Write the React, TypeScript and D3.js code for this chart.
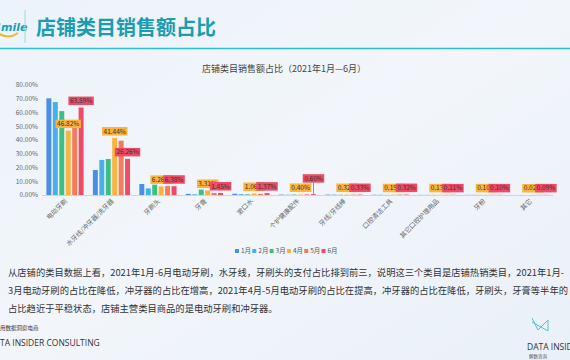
import { useEffect, useRef } from "react";
import * as d3 from "d3";

const MONTHS = ["1月", "2月", "3月", "4月", "5月", "6月"];
const MONTH_COLORS = ["#4a8fe3", "#47b0e8", "#3cbf82", "#f9b33e", "#f27c5b", "#ee4b66"];

const CATEGORIES = [
  "电动牙刷",
  "水牙线/冲牙器/洗牙器",
  "牙刷头",
  "牙膏",
  "漱口水",
  "个护健康配件",
  "牙线/牙线棒",
  "口腔清洁工具",
  "其它口腔护理用品",
  "牙粉",
  "其它",
];

// share (%) per month, one array per month, in CATEGORIES order
const M1 = [70.3, 18.2, 8.0, 0.8, 0.9, 0.3, 0.3, 0.2, 0.1, 0.1, 0.0];
const M2 = [67.6, 25.5, 4.8, 0.5, 0.6, 0.2, 0.3, 0.2, 0.1, 0.1, 0.0];
const M3 = [61.0, 26.2, 7.5, 3.9, 0.5, 0.3, 0.2, 0.1, 0.1, 0.1, 0.0];
const M4 = [46.82, 41.44, 6.26, 3.31, 1.06, 0.4, 0.32, 0.19, 0.13, 0.1, 0.02];
const M5 = [49.7, 39.5, 6.5, 1.5, 0.8, 0.5, 0.3, 0.3, 0.1, 0.1, 0.1];
const M6 = [63.59, 26.26, 6.38, 1.45, 1.37, 0.6, 0.33, 0.32, 0.11, 0.1, 0.09];
const SERIES = [M1, M2, M3, M4, M5, M6];
const LABELLED = [3, 5]; // 4月 and 6月 carry value labels

const Y_TICKS = [0, 10, 20, 30, 40, 50, 60, 70, 80];

const PARAGRAPH = [
  "从店铺的类目数据上看，2021年1月-6月电动牙刷，水牙线，牙刷头的支付占比排到前三，说明这三个类目是店铺热销类目，2021年1月-",
  "3月电动牙刷的占比在降低，冲牙器的占比在增高，2021年4月-5月电动牙刷的占比在提高，冲牙器的占比在降低，牙刷头，牙膏等半年的",
  "占比趋近于平稳状态，店铺主营类目商品的是电动牙刷和冲牙器。",
];

const FONT = "'Noto Sans CJK SC', 'Noto Sans', sans-serif";

export default function App() {
  const svgRef = useRef<SVGSVGElement>(null);

  useEffect(() => {
    if (!svgRef.current) return;
    const W = 570;
    const H = 360;
    const svg = d3.select(svgRef.current);
    svg.selectAll("*").remove();

    const defs = svg.append("defs");
    const grad = defs.append("linearGradient").attr("id", "bg").attr("x1", 0).attr("y1", 0).attr("x2", 1).attr("y2", 1);
    grad.append("stop").attr("offset", "0%").attr("stop-color", "#edf3fa");
    grad.append("stop").attr("offset", "50%").attr("stop-color", "#f2f6fb");
    grad.append("stop").attr("offset", "100%").attr("stop-color", "#eaf0f8");
    svg.append("rect").attr("width", W).attr("height", H).attr("fill", "url(#bg)");

    // header
    svg.append("text").attr("x", -7).attr("y", 31).attr("font-family", "'DejaVu Sans', sans-serif")
      .attr("font-size", 11).attr("font-weight", "bold").attr("font-style", "italic")
      .attr("fill", "#1b9fb3").text("Smile");
    svg.append("path").attr("d", "M-2,33 Q8,40 18,33").attr("fill", "none")
      .attr("stroke", "#f3b623").attr("stroke-width", 2);
    svg.append("line").attr("x1", 25).attr("x2", 25).attr("y1", 10).attr("y2", 43)
      .attr("stroke", "#9fd6de").attr("stroke-width", 1);
    svg.append("text").attr("x", 36).attr("y", 35).attr("font-family", FONT)
      .attr("font-size", 20).attr("font-weight", "bold").attr("fill", "#1a9db2")
      .text("店铺类目销售额占比");
    svg.append("line").attr("x1", 0).attr("x2", W).attr("y1", 48.5).attr("y2", 48.5)
      .attr("stroke", "#2bbfcf").attr("stroke-width", 1.5);

    // chart title
    svg.append("text").attr("x", 284).attr("y", 72).attr("text-anchor", "middle")
      .attr("font-family", FONT).attr("font-size", 9).attr("fill", "#444")
      .text("店铺类目销售额占比（2021年1月—6月）");

    const left = 41.75;
    const right = 553;
    const top = 85;
    const bottom = 195;

    const x0 = d3.scaleBand().domain(CATEGORIES).range([left, right]).paddingInner(0.2).paddingOuter(0.1);
    const x1 = d3.scaleBand().domain(MONTHS).range([0, x0.bandwidth()]).paddingInner(0.23);
    const y = d3.scaleLinear().domain([0, 80]).range([bottom, top]);

    const g = svg.append("g");

    // y axis labels
    g.selectAll(".ytick").data(Y_TICKS).join("text")
      .attr("x", 38).attr("y", (d) => y(d)).attr("dy", "0.35em").attr("text-anchor", "end")
      .attr("font-family", FONT).attr("font-size", 6.5).attr("fill", "#666")
      .text((d) => d3.format(".2f")(d) + "%");

    // bars
    SERIES.forEach((vals, mi) => {
      g.selectAll(`.bar${mi}`).data(vals).join("rect")
        .attr("x", (_, i) => x0(CATEGORIES[i])! + x1(MONTHS[mi])!)
        .attr("y", (d) => y(d))
        .attr("width", x1.bandwidth())
        .attr("height", (d) => bottom - y(d))
        .attr("fill", MONTH_COLORS[mi]);
    });

    // x axis line
    g.append("line").attr("x1", left).attr("x2", right).attr("y1", bottom + 0.5).attr("y2", bottom + 0.5)
      .attr("stroke", "#c9d6e6").attr("stroke-width", 1);

    // value labels
    LABELLED.forEach((mi) => {
      const vals = SERIES[mi];
      vals.forEach((v, i) => {
        const cx = x0(CATEGORIES[i])! + x1(MONTHS[mi])! + x1.bandwidth() / 2;
        let by = y(v) - 2.5;
        const lifted = mi === 5 && CATEGORIES[i] === "个护健康配件";
        if (lifted) {
          by -= 9;
          g.append("line").attr("x1", cx).attr("x2", cx).attr("y1", by).attr("y2", bottom)
            .attr("stroke", MONTH_COLORS[mi]).attr("stroke-width", 0.8);
        }
        const label = d3.format(".2f")(v) + "%";
        const w = label.length * 3.9 + 2;
        const h = 8.5;
        g.append("rect").attr("x", cx - w / 2).attr("y", by - h).attr("width", w).attr("height", h)
          .attr("fill", MONTH_COLORS[mi]);
        g.append("text").attr("x", cx).attr("y", by - h / 2).attr("dy", "0.35em").attr("text-anchor", "middle")
          .attr("font-family", FONT).attr("font-size", 6.5).attr("fill", "#333").text(label);
      });
    });

    // category labels
    g.selectAll(".xlab").data(CATEGORIES).join("text")
      .attr("transform", (d) => `translate(${x0(d)! + x0.bandwidth() / 2 + 1},${bottom + 5}) rotate(-45)`)
      .attr("text-anchor", "end").attr("dy", "0.35em")
      .attr("font-family", FONT).attr("font-size", 6.5).attr("fill", "#666")
      .text((d) => d);

    // legend
    const lg = svg.append("g");
    MONTHS.forEach((m, i) => {
      const lx = 235 + i * 17.3;
      lg.append("rect").attr("x", lx).attr("y", 249).attr("width", 4).attr("height", 4).attr("fill", MONTH_COLORS[i]);
      lg.append("text").attr("x", lx + 6).attr("y", 251).attr("dy", "0.35em")
        .attr("font-family", FONT).attr("font-size", 6.5).attr("fill", "#555").text(m);
    });

    // paragraph
    PARAGRAPH.forEach((line, i) => {
      svg.append("text").attr("x", 8).attr("y", 276 + i * 18)
        .attr("font-family", FONT).attr("font-size", 9.3).attr("fill", "#333").text(line);
    });

    // footer
    svg.append("text").attr("x", 0).attr("y", 330).attr("font-family", FONT)
      .attr("font-size", 5.5).attr("fill", "#333").text("用数据洞察电商");
    svg.append("text").attr("x", 0).attr("y", 346).attr("font-family", "'Open Sans', sans-serif")
      .attr("font-size", 8.5).attr("fill", "#333").text("TA INSIDER CONSULTING");
    svg.append("path").attr("d", "M532,318 L538,330 L548,320 L548,331 L532,322")
      .attr("fill", "none").attr("stroke", "#4cc3d0").attr("stroke-width", 1);
    svg.append("text").attr("x", 527).attr("y", 350).attr("font-family", "'Open Sans', sans-serif")
      .attr("font-size", 8.5).attr("fill", "#333").text("DATA INSIDER");
    svg.append("text").attr("x", 529).attr("y", 358).attr("font-family", FONT)
      .attr("font-size", 4.5).attr("fill", "#555").text("解数咨询");
  }, []);

  return (
    <div style={{ position: "fixed", left: 0, top: 0 }}>
      <svg ref={svgRef} width={570} height={360} style={{ display: "block" }} />
    </div>
  );
}
